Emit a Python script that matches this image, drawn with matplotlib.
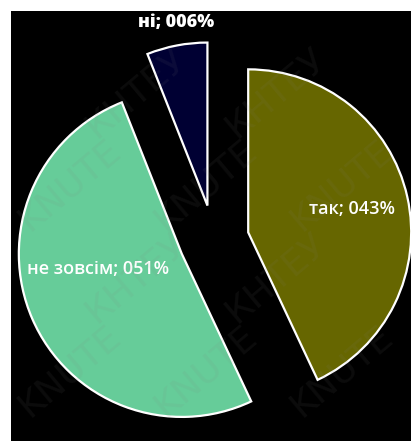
import matplotlib.pyplot as plt
import numpy as np

# частки відповідей, %
labels = ["так", "не зовсім", "ні"]
values = [43, 51, 6]
colors = ["#666600", "#66cc99", "#000033"]

# де стоять підписи: частка радіуса і кут від бісектриси, град.
label_dist = [0.65, 0.52, 1.14]
label_shift = [0, -13, -1]
label_weight = ["semibold", "semibold", "heavy"]

fig = plt.figure(figsize=(4.11, 4.41), dpi=100, facecolor="white")
ax = fig.add_axes([11 / 411, 0, 400 / 411, 430 / 441])
ax.set_facecolor("black")

radius = 163
wedges, _ = ax.pie(values, colors=colors, startangle=90, counterclock=False,
                   explode=[0.215 * radius] * 3, radius=radius,
                   center=(203, 201), frame=True,
                   wedgeprops=dict(edgecolor="white", linewidth=1.6))
ax.set_xlim(0, 400)
ax.set_ylim(0, 430)
ax.set_xticks([])
ax.set_yticks([])
for s in ax.spines.values():
    s.set_visible(False)

for w, name, v, d, sh, fw in zip(wedges, labels, values, label_dist,
                                 label_shift, label_weight):
    a = np.deg2rad((w.theta1 + w.theta2) / 2 + sh)
    cx, cy = w.center
    ax.text(cx + d * w.r * np.cos(a), cy + d * w.r * np.sin(a),
            f"{name}; {v:03d}%", color="white", fontsize=13,
            fontweight=fw, family="Open Sans", ha="center", va="center")

# водяний знак
marks = ["KNUTE", "КНТЕУ"]
for i, yy in enumerate([0.16, 0.37, 0.58, 0.79]):
    cols = [0.17, 0.5, 0.83] if i % 2 == 0 else [0.33, 0.67]
    for xx in cols:
        fig.text(xx, yy, marks[i % 2], color="#808080",
                 alpha=0.09, fontsize=26, rotation=40, ha="center",
                 va="center", family="DejaVu Sans")

fig.savefig("out.png", dpi=100, facecolor=fig.get_facecolor())
